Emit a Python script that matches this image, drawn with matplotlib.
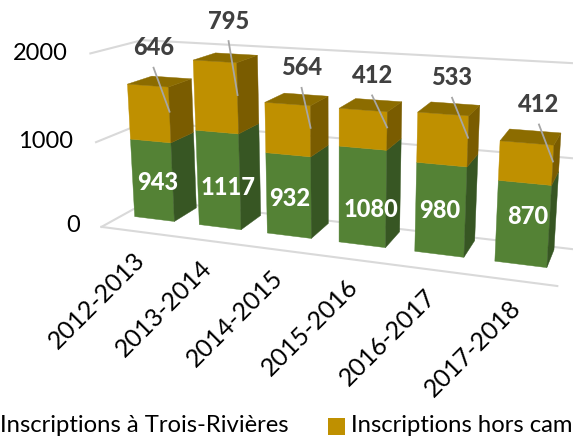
import numpy as np
import matplotlib
matplotlib.use("Agg")
import matplotlib.pyplot as plt
from matplotlib.patches import Polygon, Rectangle

plt.rcParams['font.family'] = ['Lato', 'DejaVu Sans']

years = ['2012-2013', '2013-2014', '2014-2015', '2015-2016', '2016-2017', '2017-2018']
trois_rivieres = [943, 1117, 932, 1080, 980, 870]
hors_campus = [646, 795, 564, 412, 533, 412]
y_ticks = [0, 1000, 2000]
legend_names = ['Inscriptions à Trois-Rivières', 'Inscriptions hors campus']

GAP = 0.19  # space each side of a bar, in category units
Z0, Z1 = 0.2, 0.8  # bar depth inside the floor
X_MIN, X_MAX = 0, 6
Z_FRONT, Z_BACK = -0.3, 0.9

# pixel positions of the bar corners, only used to fit the camera
front_bl = [(135, 217), (199, 225), (268, 233), (339, 242), (415, 252), (495, 262)]
front_br = [(175, 221), (241, 230), (312, 238), (386, 247), (464, 257), (547, 268)]
mid_l = [(130, 139), (196, 130), (266, 153), (339, 146), (416, 163), (498, 181)]
mid_r = [(171, 143), (239, 133), (311, 157), (387, 150), (466, 167), (551, 185)]
top_l = [(127, 84), (193, 60), (265, 102), (340, 108), (418, 112), (501, 141)]
top_r = [(168, 88), (236, 62), (310, 105), (387, 111), (469, 118), (553, 144)]
back_tr = [(190, 79), (256, 55), (328, 97), (401, 102), (479, 106), (561, 134)]
back_tl = [(155, 76), (216, 52), (285, 94), (356, 98), (432, 102), (511, 129)]
back_br = [(195, 208), (260, 217), (328, 223), (399, 232), (474, 237), (555, 250)]


def fit_camera():
    world, pix = [], []
    for i in range(6):
        left, right = i + GAP, i + 1 - GAP
        low = trois_rivieres[i]
        top = low + hors_campus[i]
        world += [(left, 0, Z0), (right, 0, Z0), (left, low, Z0), (right, low, Z0),
                  (left, top, Z0), (right, top, Z0), (right, top, Z1), (left, top, Z1),
                  (right, 0, Z1)]
        pix += [front_bl[i], front_br[i], mid_l[i], mid_r[i], top_l[i], top_r[i],
                back_tr[i], back_tl[i], back_br[i]]
    rows, vals = [], []
    for (x, y, z), (u, v) in zip(world, pix):
        y = y / 1000
        rows.append([x, y, z, 1, 0, 0, 0, 0, -u * x, -u * y, -u * z])
        vals.append(u)
        rows.append([0, 0, 0, 0, x, y, z, 1, -v * x, -v * y, -v * z])
        vals.append(v)
    return np.linalg.lstsq(np.array(rows, float), np.array(vals, float), rcond=None)[0]


cam = fit_camera()


def project(x, y, z):
    y = y / 1000
    w = cam[8] * x + cam[9] * y + cam[10] * z + 1
    return ((cam[0] * x + cam[1] * y + cam[2] * z + cam[3]) / w,
            (cam[4] * x + cam[5] * y + cam[6] * z + cam[7]) / w)


fig = plt.figure(figsize=(5.73, 4.38), dpi=100)
ax = fig.add_axes([0, 0, 1, 1])
ax.set_xlim(0, 573)
ax.set_ylim(438, 0)
ax.axis('off')

GRID = '#d9d9d9'


def line3d(a, b):
    pa, pb = project(*a), project(*b)
    ax.plot([pa[0], pb[0]], [pa[1], pb[1]], color=GRID, lw=1.5, zorder=1)


for t in y_ticks:
    line3d((X_MIN, t, Z_FRONT), (X_MIN, t, Z_BACK))
    line3d((X_MIN, t, Z_BACK), (X_MAX + 0.5, t, Z_BACK))
line3d((X_MIN, 0, Z_FRONT), (X_MAX, 0, Z_FRONT))

tick_pos = [(80, 226), (73, 142), (68, 53)]
for t, (px, py) in zip(y_ticks, tick_pos):
    ax.text(px, py, str(t), ha='right', va='center', fontsize=17, color='black')


def box(left, right, y0, y1, front, side, top=None):
    faces = [([(left, y0, Z0), (right, y0, Z0), (right, y1, Z0), (left, y1, Z0)], front),
             ([(right, y0, Z0), (right, y0, Z1), (right, y1, Z1), (right, y1, Z0)], side)]
    if top:
        faces.append(([(left, y1, Z0), (right, y1, Z0), (right, y1, Z1), (left, y1, Z1)], top))
    for pts, col in faces:
        ax.add_patch(Polygon([project(*p) for p in pts], closed=True, facecolor=col,
                             edgecolor=col, lw=0.3, zorder=2))


# text placement relative to the bars, in pixels
leader_off = [(-16, -44), (-9, -54), (-9, -40), (-15, -32), (-16, -40), (-14, -37)]
green_off = [(5, 2), (10, 7), (1, 3), (9, 12), (-1, 1), (5, -8)]
year_pos = [(97, 300), (164, 308), (235, 318), (310, 327), (388, 337), (473, 348)]

for i in range(6):
    left, right = i + GAP, i + 1 - GAP
    low, high = trois_rivieres[i], trois_rivieres[i] + hors_campus[i]
    box(left, right, 0, low, '#548235', '#375623')
    box(left, right, low, high, '#bf9000', '#7a5c00', '#8c6c00')

    cx, cy = project(i + 0.5, low / 2, Z0)
    ax.text(cx + green_off[i][0], cy + green_off[i][1], str(low), color='white',
            fontweight='black', fontsize=17, ha='center', va='center', zorder=4)

    ex, ey = project(right, low + hors_campus[i] / 2 + 40, Z0)
    sx, sy = ex + leader_off[i][0], ey + leader_off[i][1]
    ax.plot([sx, ex], [sy, ey], color='#a6a6a6', lw=1.3, zorder=3)
    ax.text(sx, sy - 20, str(hors_campus[i]), color='#404040', fontweight='black',
            fontsize=17, ha='center', va='center', zorder=4)

    ax.text(year_pos[i][0], year_pos[i][1], years[i], rotation=45, rotation_mode='anchor',
            ha='center', va='center', fontsize=18, color='black')

# legend sits partly outside the picture, as in the source
ax.add_patch(Rectangle((-26, 418), 17, 17, facecolor='#548235'))
ax.text(288, 426, legend_names[0], ha='right', va='center', fontsize=17.2, color='black')
ax.add_patch(Rectangle((328, 418), 17, 17, facecolor='#bf9000'))
ax.text(351, 426, legend_names[1], ha='left', va='center', fontsize=17.2, color='black')

fig.savefig('out.png', dpi=100)
